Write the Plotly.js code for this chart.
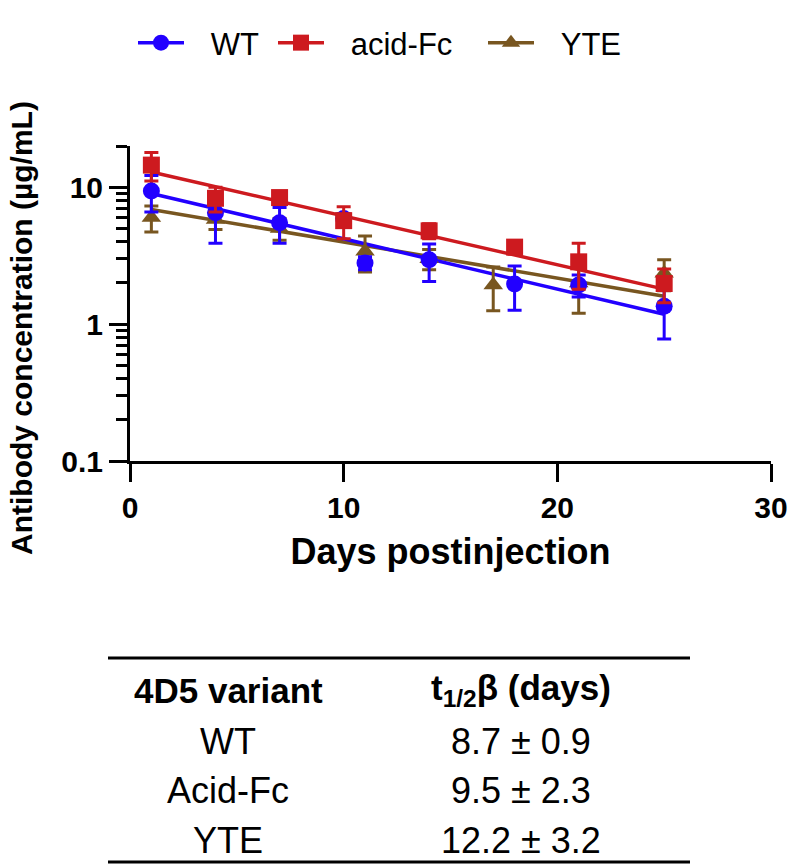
<!DOCTYPE html>
<html>
<head>
<meta charset="utf-8">
<script src="https://cdn.plot.ly/plotly-3.0.1.min.js"></script>
<style>html,body{margin:0;padding:0;background:#fff;}</style>
</head>
<body>
<div id="chart" style="width:788px;height:868px;"></div>
<script>
// ---------- data ----------
const seriesNames = ['WT', 'acid-Fc', 'YTE'];

const daysWT = [1, 4, 7, 10, 11, 14, 18, 21, 25];
const concWT = [9.4, 6.5, 5.5, 5.9, 2.8, 2.95, 1.96, 1.93, 1.35];
const sdWT   = [2.8, 2.6, 1.6, 0.5, 0.3, 0.9, 0.7, 0.35, 0.57];

const daysAcid = [1, 4, 7, 10, 14, 18, 21, 25];
const concAcid = [14.5, 8.3, 8.4, 5.7, 4.8, 3.65, 2.85, 1.98];
const sdAcid   = [3.4, 1.7, 0.8, 1.5, 0.6, 0.4, 1.05, 0.55];

const daysYTE = [1, 4, 7, 11, 14, 17, 21, 25];
const concYTE = [6.0, 5.8, 5.0, 3.4, 3.0, 1.93, 2.0, 2.35];
const sdYTE   = [1.3, 0.9, 0.9, 1.0, 0.5, 0.68, 0.8, 0.6];

// fitted mono-exponential decay lines (end points)
const fitDays = [1, 25];
const fitWT   = [9.0, 1.18];
const fitAcid = [12.9, 1.8];
const fitYTE  = [6.87, 1.6];

// table
const tableHeaders = ['4D5 variant', 't<sub>1/2</sub>β (days)'];
const tableVariants = ['WT', 'Acid-Fc', 'YTE'];
const halfLifeMean = [8.7, 9.5, 12.2];
const halfLifeSD = [0.9, 2.3, 3.2];

const xTickVals = [0, 10, 20, 30];
const xTitle = 'Days postinjection';
const yTitle = 'Antibody concentration (µg/mL)';

// ---------- styles ----------
const colWT = '#2200ff', colAcid = '#cd1a1f', colYTE = '#785620';
const FONT = 'Liberation Sans, Arial, Helvetica, sans-serif';

// plot area geometry in pixels
const W = 788, H = 868;
const L = 130, R = 771, T = 146, B = 461;
const px = x => (x - L) / (R - L);
const py = y => (B - y) / (B - T);

function fitTrace(x, y, color) {
  return {type: 'scatter', mode: 'lines', x: x, y: y, showlegend: false,
    line: {color: color, width: 3.5}, hoverinfo: 'skip'};
}
function dataTrace(x, y, sd, color, symbol, name) {
  return {type: 'scatter', mode: 'markers', x: x, y: y, name: name, showlegend: false,
    marker: {color: color, symbol: symbol, size: 17, line: {width: 0}},
    error_y: {type: 'data', array: sd, visible: true, color: color, thickness: 3, width: 7}};
}
const GAP = '\u2002\u2009';
function legendTrace(color, symbol, name, leg) {
  return {type: 'scatter', mode: 'lines+markers', x: [null], y: [null], name: GAP + name, legend: leg,
    line: {color: color, width: 3.5}, marker: {color: color, symbol: symbol, size: 17}};
}

const traces = [
  fitTrace(fitDays, fitYTE, colYTE),
  fitTrace(fitDays, fitWT, colWT),
  fitTrace(fitDays, fitAcid, colAcid),
  dataTrace(daysYTE, concYTE, sdYTE, colYTE, 'triangle-up', seriesNames[2]),
  dataTrace(daysWT, concWT, sdWT, colWT, 'circle', seriesNames[0]),
  dataTrace(daysAcid, concAcid, sdAcid, colAcid, 'square', seriesNames[1]),
  legendTrace(colWT, 'circle', seriesNames[0], 'legend'),
  legendTrace(colAcid, 'square', seriesNames[1], 'legend2'),
  legendTrace(colYTE, 'triangle-up', seriesNames[2], 'legend3')
];

// table annotations
const annotations = [];
const colX = [228, 521];
const headFont = {family: FONT, size: 35, weight: 700, color: '#000'};
const cellFont = {family: FONT, size: 36, color: '#000'};
tableHeaders.forEach((h, j) => {
  annotations.push({xref: 'paper', yref: 'paper', x: px(colX[j]), y: py(690), text: h,
    showarrow: false, xanchor: 'center', yanchor: 'middle', font: headFont});
});
const rowY = [741, 790, 840];
tableVariants.forEach((v, i) => {
  annotations.push({xref: 'paper', yref: 'paper', x: px(colX[0]), y: py(rowY[i]), text: v,
    showarrow: false, xanchor: 'center', yanchor: 'middle', font: cellFont});
  annotations.push({xref: 'paper', yref: 'paper', x: px(colX[1]), y: py(rowY[i]),
    text: halfLifeMean[i].toFixed(1) + ' ± ' + halfLifeSD[i].toFixed(1),
    showarrow: false, xanchor: 'center', yanchor: 'middle', font: cellFont});
});
// y title
annotations.push({xref: 'paper', yref: 'paper', x: px(21), y: py(328), text: yTitle, textangle: -90,
  showarrow: false, xanchor: 'center', yanchor: 'middle', font: {family: FONT, size: 30, weight: 700, color: '#000'}});

const shapes = [
  {type: 'line', xref: 'paper', yref: 'paper', x0: px(108), x1: px(690), y0: py(658), y1: py(658), line: {color: '#000', width: 3}},
  {type: 'line', xref: 'paper', yref: 'paper', x0: px(108), x1: px(690), y0: py(862), y1: py(862), line: {color: '#000', width: 3}}
];

const legFont = {family: FONT, size: 31, color: '#000'};
function legendAt(xpx) {
  return {orientation: 'h', x: px(xpx), y: py(43), xanchor: 'left', yanchor: 'middle',
    font: legFont, itemwidth: 46, bgcolor: 'rgba(0,0,0,0)'};
}

const layout = {
  width: W, height: H,
  margin: {l: L, r: W - R, t: T, b: H - B, pad: 0},
  paper_bgcolor: '#fff', plot_bgcolor: '#fff',
  font: {family: FONT, color: '#000'},
  showlegend: true,
  legend: legendAt(133),
  legend2: legendAt(273),
  legend3: legendAt(483),
  xaxis: {
    range: [0, 30], tickvals: xTickVals, ticktext: xTickVals.map(String),
    showline: true, linecolor: '#000', linewidth: 3, mirror: false,
    ticks: 'outside', ticklen: 18, tickwidth: 3, tickcolor: '#000',
    showgrid: false, zeroline: false,
    tickfont: {family: FONT, size: 30, weight: 700, color: '#000'},
    title: {text: xTitle, standoff: 16, font: {family: FONT, size: 36, weight: 700, color: '#000'}}
  },
  yaxis: {
    type: 'log', range: [-1, Math.log10(20)], dtick: 1,
    showline: true, linecolor: '#000', linewidth: 3, mirror: false,
    ticks: 'outside', ticklen: 18, tickwidth: 3, tickcolor: '#000',
    minor: {dtick: 'D1', ticks: 'outside', ticklen: 11, tickwidth: 3, tickcolor: '#000', showgrid: false},
    showgrid: false, zeroline: false,
    tickfont: {family: FONT, size: 30, weight: 700, color: '#000'}
  },
  annotations: annotations,
  shapes: shapes
};

Plotly.newPlot('chart', traces, layout, {staticPlot: true, displayModeBar: false});
</script>
</body>
</html>
